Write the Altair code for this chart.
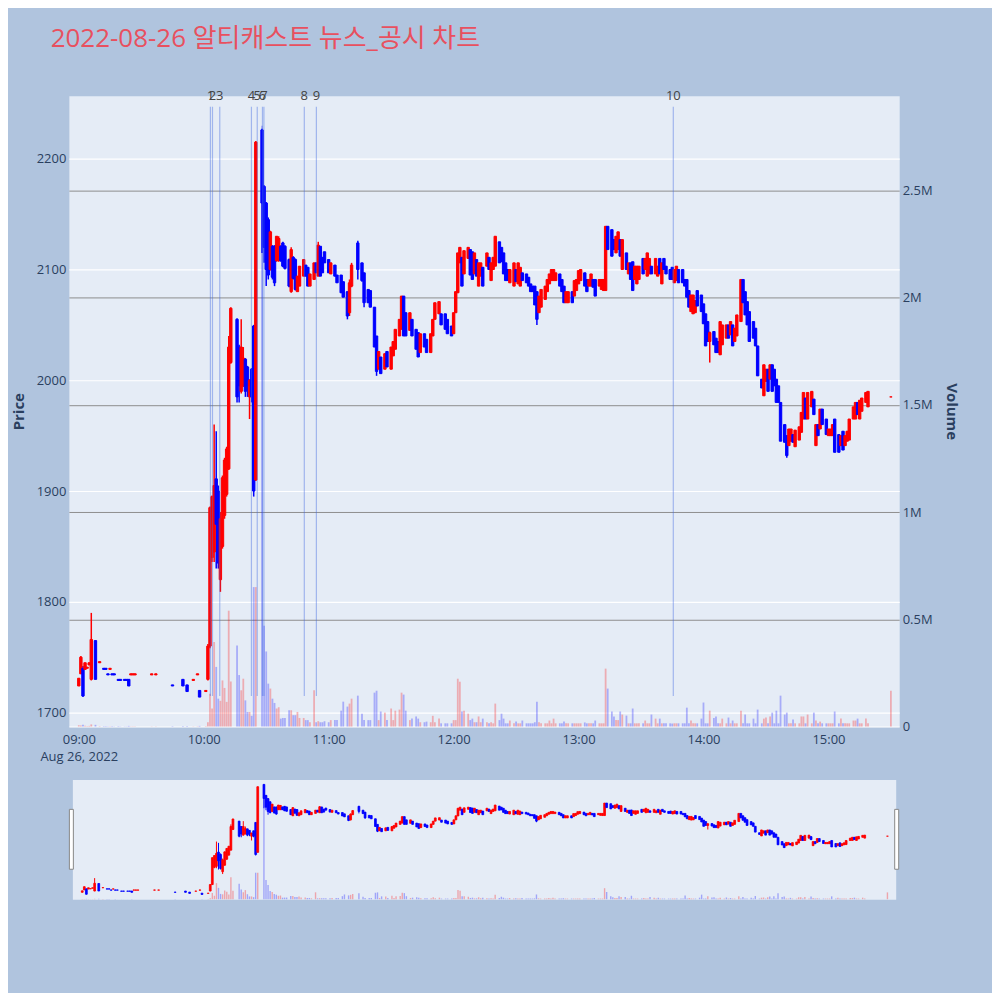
import altair as alt
import numpy as np
import pandas as pd

TITLE = "2022-08-26 알티캐스트 뉴스_공시 차트"
DAY = "2022-08-26"

# candles: (minute after 09:00, open, high, low, close, volume in millions)
seg_0900 = [
    (0, 1724, 1731, 1724, 1731, 0.006), (1, 1735, 1751, 1735, 1750, 0.005),
    (2, 1740, 1742, 1714, 1715, 0.008), (3, 1739, 1745, 1739, 1745, 0.004),
    (4, 1740, 1741, 1740, 1741, 0.002), (5, 1743, 1745, 1743, 1745, 0.003),
    (6, 1730, 1790, 1729, 1766, 0.010), (8, 1765, 1765, 1730, 1730, 0.008),
    (10, 1745, 1746, 1745, 1746, 0.002), (12, 1740, 1740, 1739, 1739, 0.002),
    (13, 1740, 1740, 1739, 1739, 0.002), (14, 1735, 1735, 1734, 1734, 0.001),
    (15, 1739, 1740, 1739, 1740, 0.001), (16, 1735, 1735, 1734, 1734, 0.002),
    (17, 1735, 1735, 1734, 1734, 0.001), (19, 1730, 1730, 1729, 1729, 0.002),
    (20, 1730, 1730, 1729, 1729, 0.001), (22, 1730, 1730, 1729, 1729, 0.001),
    (23, 1730, 1730, 1729, 1729, 0.001), (24, 1730, 1730, 1724, 1724, 0.003),
    (25, 1734, 1735, 1734, 1735, 0.001), (26, 1734, 1735, 1734, 1735, 0.001),
    (27, 1734, 1735, 1734, 1735, 0.001), (35, 1734, 1735, 1734, 1735, 0.001),
    (37, 1734, 1735, 1734, 1735, 0.001), (45, 1725, 1725, 1724, 1724, 0.002),
    (50, 1730, 1730, 1724, 1724, 0.003), (52, 1725, 1725, 1719, 1719, 0.003),
    (55, 1729, 1730, 1729, 1730, 0.001), (57, 1734, 1735, 1734, 1735, 0.001),
    (58, 1720, 1720, 1714, 1714, 0.003), (61, 1719, 1720, 1719, 1720, 0.002),
]

seg_1002 = [
    (62, 1730, 1762, 1729, 1760, 0.020), (63, 1760, 1886, 1758, 1885, 0.153),
    (64, 1840, 1896, 1836, 1895, 0.084), (65, 1845, 1960, 1836, 1905, 0.394),
    (66, 1911, 1954, 1830, 1870, 0.278), (67, 1900, 1905, 1830, 1835, 0.130),
    (68, 1820, 1881, 1809, 1875, 0.120), (69, 1850, 1914, 1848, 1912, 0.215),
    (70, 1878, 1930, 1875, 1928, 0.180), (71, 1897, 1940, 1895, 1938, 0.115),
    (72, 1920, 2040, 1919, 2030, 0.540), (73, 2016, 2066, 2015, 2065, 0.210),
    (76, 2055, 2056, 1980, 1985, 0.378), (77, 2030, 2032, 1980, 1995, 0.240),
    (78, 1990, 2055, 1988, 2030, 0.169), (79, 1995, 2030, 1994, 2020, 0.223),
    (80, 2019, 2020, 1985, 1990, 0.122), (81, 2012, 2013, 1985, 1995, 0.068),
    (82, 1985, 2001, 1965, 2000, 0.068), (83, 2010, 2011, 1980, 1985, 0.050),
    (84, 2049, 2050, 1895, 1900, 0.650), (85, 1910, 2216, 1909, 2215, 0.650),
    (88, 2226, 2227, 2115, 2160, 2.800), (89, 2175, 2176, 2106, 2120, 0.470),
    (90, 2160, 2161, 2085, 2100, 0.350),
]

seg_1031 = [
    (91, 2145, 2147, 2091, 2095, 0.200), (92, 2100, 2135, 2099, 2134, 0.177),
    (93, 2121, 2122, 2091, 2093, 0.130), (94, 2121, 2122, 2085, 2088, 0.110),
    (95, 2108, 2130, 2107, 2130, 0.084), (96, 2108, 2130, 2107, 2128, 0.090),
    (97, 2121, 2122, 2107, 2108, 0.037), (98, 2124, 2125, 2102, 2103, 0.040),
    (99, 2121, 2122, 2100, 2101, 0.040), (101, 2109, 2110, 2084, 2085, 0.076),
    (102, 2080, 2120, 2079, 2118, 0.076), (103, 2111, 2112, 2091, 2092, 0.053),
    (104, 2109, 2110, 2081, 2082, 0.053), (105, 2080, 2094, 2080, 2094, 0.068),
    (106, 2085, 2103, 2085, 2103, 0.040), (108, 2094, 2109, 2094, 2109, 0.040),
    (109, 2104, 2104, 2094, 2094, 0.030), (110, 2102, 2102, 2085, 2085, 0.030),
    (111, 2085, 2096, 2085, 2096, 0.020), (113, 2091, 2106, 2091, 2106, 0.169),
    (114, 2106, 2106, 2097, 2097, 0.020), (115, 2094, 2125, 2094, 2122, 0.025),
    (116, 2121, 2121, 2094, 2094, 0.020), (117, 2111, 2111, 2097, 2097, 0.020),
    (118, 2116, 2116, 2106, 2106, 0.025), (120, 2109, 2109, 2097, 2097, 0.020),
    (121, 2096, 2106, 2096, 2106, 0.030), (123, 2104, 2104, 2094, 2094, 0.030),
    (124, 2095, 2095, 2088, 2088, 0.030), (126, 2095, 2095, 2079, 2079, 0.074),
    (127, 2089, 2089, 2075, 2075, 0.116), (129, 2080, 2080, 2055, 2058, 0.093),
    (130, 2061, 2091, 2058, 2088, 0.107), (131, 2085, 2106, 2084, 2104, 0.130),
    (134, 2124, 2126, 2091, 2100, 0.144), (136, 2106, 2106, 2089, 2090, 0.060),
    (137, 2097, 2097, 2066, 2070, 0.030), (139, 2082, 2082, 2070, 2070, 0.030),
    (140, 2081, 2081, 2066, 2066, 0.030), (142, 2066, 2066, 2030, 2030, 0.158),
    (143, 2040, 2040, 2004, 2008, 0.167), (144, 2010, 2026, 2010, 2026, 0.030),
    (145, 2021, 2021, 2006, 2006, 0.070), (147, 2010, 2024, 2010, 2024, 0.065),
    (148, 2026, 2026, 2012, 2012, 0.030), (150, 2010, 2030, 2010, 2030, 0.084),
    (151, 2022, 2035, 2022, 2035, 0.030), (152, 2028, 2046, 2028, 2046, 0.074),
    (154, 2040, 2055, 2040, 2055, 0.079), (155, 2046, 2076, 2046, 2076, 0.158),
    (156, 2076, 2076, 2040, 2040, 0.149), (157, 2061, 2061, 2040, 2040, 0.074),
    (159, 2045, 2061, 2045, 2061, 0.030), (160, 2055, 2055, 2040, 2040, 0.037),
    (162, 2046, 2046, 2028, 2028, 0.047), (163, 2043, 2043, 2021, 2021, 0.037),
    (164, 2025, 2042, 2025, 2042, 0.020), (166, 2042, 2042, 2030, 2030, 0.020),
    (167, 2037, 2037, 2025, 2025, 0.023), (169, 2025, 2042, 2025, 2042, 0.020),
    (170, 2040, 2055, 2040, 2055, 0.050), (171, 2055, 2070, 2055, 2070, 0.020),
    (173, 2060, 2071, 2060, 2071, 0.037), (174, 2060, 2060, 2050, 2050, 0.015),
    (176, 2060, 2060, 2046, 2046, 0.015), (177, 2055, 2055, 2042, 2042, 0.015),
    (179, 2049, 2049, 2040, 2040, 0.015),
]

seg_1200 = [
    (180, 2042, 2061, 2042, 2061, 0.030), (181, 2061, 2080, 2061, 2080, 0.030),
    (182, 2079, 2115, 2079, 2115, 0.223), (183, 2106, 2120, 2106, 2120, 0.209),
    (184, 2111, 2111, 2085, 2085, 0.070), (185, 2096, 2117, 2096, 2117, 0.074),
    (187, 2110, 2120, 2110, 2120, 0.060), (188, 2118, 2118, 2095, 2095, 0.030),
    (189, 2116, 2116, 2091, 2091, 0.037), (190, 2096, 2115, 2096, 2115, 0.020),
    (191, 2109, 2109, 2094, 2094, 0.020), (192, 2085, 2106, 2085, 2106, 0.047),
    (193, 2094, 2106, 2094, 2106, 0.020), (194, 2102, 2102, 2085, 2085, 0.037),
    (196, 2103, 2115, 2103, 2115, 0.020), (197, 2111, 2111, 2100, 2100, 0.015),
    (198, 2090, 2106, 2090, 2106, 0.020), (199, 2100, 2111, 2100, 2111, 0.015),
    (200, 2103, 2130, 2103, 2130, 0.107), (202, 2125, 2125, 2106, 2106, 0.030),
    (203, 2120, 2120, 2107, 2107, 0.060), (204, 2115, 2115, 2096, 2096, 0.037),
    (205, 2106, 2106, 2090, 2090, 0.015), (206, 2100, 2100, 2090, 2090, 0.015),
    (207, 2088, 2100, 2088, 2100, 0.028), (209, 2085, 2106, 2085, 2106, 0.015),
    (210, 2100, 2100, 2089, 2089, 0.023), (211, 2087, 2106, 2087, 2106, 0.015),
    (212, 2085, 2102, 2085, 2102, 0.015), (213, 2097, 2097, 2090, 2090, 0.028),
    (215, 2096, 2096, 2088, 2088, 0.015), (216, 2093, 2093, 2085, 2085, 0.015),
    (217, 2087, 2087, 2080, 2080, 0.015), (218, 2085, 2085, 2080, 2080, 0.015),
    (219, 2085, 2085, 2068, 2068, 0.020), (220, 2080, 2080, 2050, 2055, 0.116),
    (221, 2061, 2076, 2061, 2076, 0.020), (222, 2066, 2082, 2066, 2082, 0.015),
    (224, 2073, 2085, 2073, 2085, 0.015), (225, 2080, 2091, 2080, 2091, 0.015),
    (226, 2087, 2096, 2087, 2096, 0.028), (227, 2090, 2100, 2090, 2100, 0.015),
    (228, 2090, 2100, 2090, 2100, 0.037), (229, 2090, 2097, 2090, 2097, 0.015),
    (231, 2096, 2096, 2085, 2085, 0.015), (232, 2091, 2091, 2080, 2080, 0.015),
    (233, 2085, 2085, 2070, 2070, 0.023), (234, 2070, 2080, 2070, 2080, 0.015),
    (235, 2070, 2080, 2070, 2080, 0.015), (237, 2080, 2080, 2070, 2070, 0.015),
    (238, 2076, 2090, 2076, 2090, 0.015), (239, 2081, 2091, 2081, 2091, 0.015),
]

seg_1300 = [
    (240, 2087, 2099, 2087, 2099, 0.015), (241, 2090, 2100, 2090, 2100, 0.015),
    (243, 2097, 2097, 2085, 2085, 0.019), (244, 2091, 2091, 2080, 2080, 0.015),
    (245, 2085, 2091, 2085, 2091, 0.015), (246, 2085, 2096, 2085, 2096, 0.015),
    (247, 2091, 2091, 2084, 2084, 0.015), (248, 2091, 2091, 2076, 2076, 0.028),
    (250, 2085, 2091, 2085, 2091, 0.015), (251, 2082, 2091, 2082, 2091, 0.015),
    (252, 2081, 2091, 2081, 2091, 0.015), (253, 2081, 2139, 2081, 2139, 0.270),
    (254, 2139, 2139, 2118, 2118, 0.177), (256, 2136, 2136, 2112, 2112, 0.070),
    (257, 2127, 2127, 2118, 2118, 0.047), (258, 2115, 2130, 2115, 2130, 0.030),
    (259, 2118, 2134, 2118, 2134, 0.030), (260, 2127, 2127, 2112, 2112, 0.070),
    (261, 2100, 2127, 2100, 2127, 0.056), (263, 2115, 2115, 2100, 2100, 0.051),
    (264, 2096, 2106, 2096, 2106, 0.015), (265, 2106, 2106, 2091, 2091, 0.015),
    (266, 2107, 2107, 2081, 2081, 0.084), (267, 2091, 2103, 2091, 2103, 0.015),
    (268, 2087, 2103, 2087, 2103, 0.015), (269, 2091, 2103, 2091, 2103, 0.015),
    (271, 2110, 2110, 2096, 2096, 0.015), (272, 2100, 2110, 2100, 2110, 0.028),
    (273, 2094, 2115, 2094, 2115, 0.015), (274, 2096, 2110, 2096, 2110, 0.015),
    (275, 2103, 2103, 2096, 2096, 0.056), (277, 2096, 2110, 2096, 2110, 0.037),
    (278, 2094, 2103, 2094, 2103, 0.015), (279, 2110, 2110, 2096, 2096, 0.037),
    (280, 2087, 2106, 2087, 2106, 0.015), (281, 2110, 2110, 2100, 2100, 0.015),
    (282, 2103, 2103, 2096, 2096, 0.015), (284, 2100, 2100, 2091, 2091, 0.015),
    (285, 2102, 2102, 2091, 2091, 0.014), (286, 2088, 2100, 2088, 2100, 0.015),
    (287, 2090, 2103, 2090, 2103, 0.015), (288, 2100, 2100, 2088, 2088, 0.015),
    (290, 2100, 2100, 2088, 2088, 0.015), (291, 2091, 2091, 2085, 2085, 0.015),
    (292, 2091, 2091, 2075, 2075, 0.088), (293, 2081, 2081, 2066, 2066, 0.015),
    (294, 2062, 2077, 2062, 2077, 0.028), (295, 2060, 2077, 2060, 2077, 0.015),
    (296, 2061, 2072, 2061, 2072, 0.015), (297, 2081, 2081, 2067, 2067, 0.015),
    (299, 2077, 2077, 2062, 2062, 0.037),
]

seg_1400 = [
    (300, 2069, 2069, 2051, 2051, 0.112), (301, 2060, 2060, 2031, 2031, 0.015),
    (302, 2053, 2053, 2035, 2035, 0.015), (303, 2035, 2044, 2016, 2043, 0.074),
    (305, 2044, 2044, 2032, 2032, 0.040), (306, 2038, 2038, 2025, 2025, 0.047),
    (307, 2035, 2035, 2025, 2025, 0.015), (308, 2023, 2053, 2023, 2053, 0.015),
    (309, 2032, 2050, 2032, 2050, 0.037), (311, 2038, 2050, 2038, 2050, 0.015),
    (312, 2050, 2050, 2038, 2038, 0.042), (313, 2041, 2053, 2041, 2053, 0.015),
    (314, 2050, 2050, 2031, 2031, 0.028), (315, 2035, 2047, 2035, 2047, 0.015),
    (316, 2040, 2059, 2040, 2059, 0.015), (318, 2053, 2091, 2053, 2091, 0.074),
    (319, 2091, 2091, 2070, 2070, 0.015), (320, 2080, 2080, 2059, 2059, 0.056),
    (321, 2071, 2071, 2050, 2050, 0.015), (322, 2062, 2062, 2035, 2035, 0.015),
    (324, 2053, 2053, 2038, 2038, 0.037), (325, 2047, 2047, 2031, 2031, 0.015),
    (326, 2031, 2031, 2004, 2004, 0.079), (328, 2001, 2001, 1993, 1993, 0.015),
    (329, 1986, 2014, 1986, 2014, 0.037), (330, 1999, 2010, 1999, 2010, 0.042),
    (331, 2010, 2010, 1990, 1990, 0.015), (332, 2001, 2014, 2001, 2014, 0.047),
    (333, 2014, 2014, 1990, 1990, 0.065), (334, 2010, 2010, 1995, 1995, 0.015),
    (335, 2001, 2001, 1980, 1980, 0.074), (336, 1995, 1995, 1980, 1980, 0.015),
    (337, 1980, 1980, 1945, 1945, 0.144), (339, 1960, 1960, 1944, 1944, 0.056),
    (340, 1950, 1950, 1930, 1932, 0.065), (341, 1941, 1956, 1941, 1956, 0.015),
    (342, 1945, 1956, 1945, 1956, 0.015), (343, 1951, 1951, 1944, 1944, 0.033),
    (344, 1940, 1955, 1940, 1955, 0.015), (346, 1946, 1958, 1946, 1958, 0.015),
    (347, 1953, 1971, 1953, 1971, 0.047), (348, 1965, 1989, 1965, 1989, 0.047),
    (349, 1984, 1984, 1965, 1965, 0.015), (350, 1965, 1989, 1965, 1989, 0.056),
    (352, 1976, 1990, 1976, 1990, 0.015), (353, 1983, 1983, 1969, 1969, 0.065),
    (354, 1941, 1960, 1941, 1960, 0.028), (355, 1960, 1960, 1950, 1950, 0.015),
    (356, 1956, 1974, 1956, 1974, 0.023), (357, 1974, 1974, 1960, 1960, 0.015),
    (359, 1965, 1965, 1951, 1951, 0.015), (360, 1950, 1956, 1950, 1956, 0.015),
    (361, 1950, 1956, 1950, 1956, 0.015), (362, 1950, 1960, 1950, 1960, 0.015),
    (363, 1965, 1965, 1935, 1935, 0.070), (365, 1951, 1951, 1935, 1935, 0.015),
    (366, 1941, 1950, 1941, 1950, 0.037), (367, 1954, 1954, 1937, 1937, 0.015),
    (368, 1941, 1950, 1941, 1950, 0.015), (369, 1945, 1954, 1945, 1954, 0.015),
    (370, 1946, 1965, 1946, 1965, 0.015), (372, 1965, 1976, 1965, 1976, 0.028),
    (373, 1965, 1980, 1965, 1980, 0.028), (374, 1980, 1980, 1969, 1969, 0.037),
    (375, 1965, 1982, 1965, 1982, 0.015), (376, 1972, 1984, 1972, 1984, 0.015),
    (378, 1980, 1989, 1980, 1989, 0.037), (379, 1976, 1990, 1976, 1990, 0.015),
    (390, 1985, 1985, 1985, 1985, 0.167),
]

news_labels = ["1", "2", "3", "4", "5", "6", "7", "8", "9", "10"]
news_times = ["10:03:12", "10:04:12", "10:07:42", "10:22:54", "10:25:42",
              "10:28:12", "10:28:54", "10:48:18", "10:54:06", "13:45:30"]
news_low, news_high = 1715, 2247

price_ticks = [1700, 1800, 1900, 2000, 2100, 2200]
volume_ticks = [0, 0.5, 1, 1.5, 2, 2.5]
hour_ticks = [9, 10, 11, 12, 13, 14, 15]

UP, DOWN = "#ff0000", "#0000ff"
TXT = "#2a3f5f"
FONT = "Open Sans"

rows = seg_0900 + seg_1002 + seg_1031 + seg_1200 + seg_1300 + seg_1400
df = pd.DataFrame(rows, columns=["m", "open", "high", "low", "close", "vol"])
df["time"] = pd.Timestamp(DAY + " 09:00:00") + pd.to_timedelta(df["m"], unit="min")
df["dir"] = np.where(df["close"] >= df["open"], "up", "down")
df["top"] = df[["open", "close"]].max(axis=1)
df["bot"] = df[["open", "close"]].min(axis=1)
df = df.drop(columns=["m"])

news = pd.DataFrame({
    "label": news_labels,
    "time": pd.to_datetime([DAY + " " + t for t in news_times]),
    "lo": news_low,
    "hi": news_high,
})

def dt(h, m=0, s=0):
    return alt.DateTime(year=2022, month=8, date=26, hours=h, minutes=m, seconds=s)

xscale = alt.Scale(domain=[dt(8, 57, 38), dt(15, 31, 35)])
xaxis = alt.Axis(
    values=[dt(h) for h in hour_ticks],
    labelExpr="hours(datum.value) == 9 ? [timeFormat(datum.value, '%H:%M'), timeFormat(datum.value, '%b %d, %Y')] : timeFormat(datum.value, '%H:%M')",
    grid=False, ticks=False, domain=False, labelPadding=7, labelFontSize=13,
    labelLineHeight=17, labelOverlap=False, labelFlush=False,
)
X = alt.X("time:T", scale=xscale, axis=xaxis, title=None)

cscale = alt.Scale(domain=["up", "down"], range=[UP, DOWN])
COL = alt.Color("dir:N", scale=cscale, legend=None)

pscale = alt.Scale(domain=[1687.4, 2256.8], nice=False, zero=False)
paxis = alt.Axis(values=price_ticks, format="d", orient="left", grid=True,
                 gridColor="white", gridWidth=1.2, ticks=False, domain=False,
                 labelPadding=3, labelFontSize=13, titleFontSize=15,
                 titleFontWeight="bold", titlePadding=10)

vscale = alt.Scale(domain=[0, 2.94], nice=False, zero=True)
vaxis = alt.Axis(values=volume_ticks, orient="right", grid=True,
                 gridColor={"condition": {"test": "datum.value === 0", "value": "white"},
                            "value": "#8e8e8e"},
                 gridWidth=1, ticks=False, domain=False, labelPadding=3,
                 labelFontSize=13, titleFontSize=15, titleFontWeight="bold",
                 titlePadding=11,
                 labelExpr="datum.value == 0 ? '0' : datum.value + 'M'")

vol = alt.Chart(df).mark_bar(size=1.8, opacity=0.27).encode(
    x=X, y=alt.Y("vol:Q", scale=vscale, axis=vaxis, title="Volume"), color=COL)

wick = alt.Chart(df).mark_rule(strokeWidth=1.5).encode(
    x=X, y=alt.Y("low:Q", scale=pscale, axis=paxis, title="Price"), y2="high:Q", color=COL)
body = alt.Chart(df).mark_bar(size=2.4, strokeWidth=1.0).encode(
    x=X, y=alt.Y("bot:Q", scale=pscale, axis=paxis, title="Price"), y2="top:Q",
    fill=alt.Fill("dir:N", scale=cscale, legend=None),
    stroke=alt.Stroke("dir:N", scale=cscale, legend=None))
nline = alt.Chart(news).mark_rule(color="#4169E1", opacity=0.42, strokeWidth=1.2).encode(
    x=X, y=alt.Y("lo:Q", scale=pscale, axis=paxis, title="Price"), y2="hi:Q")
ntext = alt.Chart(news).mark_text(baseline="middle", align="center", fontSize=13,
                                   color="#444444", font=FONT).encode(
    x=X, y=alt.value(0), text="label:N")

price = alt.layer(wick, body, nline, ntext)
main = alt.layer(vol, price).resolve_scale(y="independent").properties(width=832, height=632)

# range slider
SX = alt.X("time:T", scale=xscale, axis=None)
svol = alt.Chart(df).mark_bar(size=1.4, opacity=0.3).encode(
    x=SX, y=alt.Y("vol:Q", scale=vscale, axis=None), color=COL)
spscale = alt.Scale(domain=[1692, 2249], nice=False, zero=False)
swick = alt.Chart(df).mark_rule(strokeWidth=1).encode(
    x=SX, y=alt.Y("low:Q", scale=spscale, axis=None), y2="high:Q", color=COL)
sbody = alt.Chart(df).mark_bar(size=1.8, strokeWidth=0.8).encode(
    x=SX, y=alt.Y("bot:Q", scale=spscale, axis=None), y2="top:Q",
    fill=alt.Fill("dir:N", scale=cscale, legend=None),
    stroke=alt.Stroke("dir:N", scale=cscale, legend=None))
hdata = alt.Data(values=[{"k": 0}])
hleft = alt.Chart(hdata).mark_rect(fill="white", stroke="#888888", strokeWidth=1).encode(
    x=alt.value(-3), x2=alt.value(1), y=alt.value(30), y2=alt.value(90))
hright = alt.Chart(hdata).mark_rect(fill="white", stroke="#888888", strokeWidth=1).encode(
    x=alt.value(824), x2=alt.value(828), y=alt.value(30), y2=alt.value(90))
sprice = alt.layer(swick, sbody)
slider = alt.layer(svol, sprice, hleft, hright).resolve_scale(y="independent").properties(
    width=825, height=120)

chart = alt.vconcat(main, slider, spacing=53, bounds="flush", center=True).resolve_scale(
    x="independent", y="independent"
).properties(
    title=alt.TitleParams(TITLE, anchor="start", frame="bounds", fontSize=26,
                          fontWeight="normal", font=FONT + ", Noto Sans CJK KR",
                          color="#E8505F", dx=40, offset=37),
    padding={"left": 2, "top": 17, "right": 33, "bottom": 92},
).configure(
    background="#B0C4DE", font=FONT
).configure_view(
    fill="#E5ECF6", stroke="transparent"
).configure_axis(
    labelColor=TXT, titleColor=TXT, labelFont=FONT, titleFont=FONT
)

chart.save("out.html", embed_options={"renderer": "svg", "actions": False})
